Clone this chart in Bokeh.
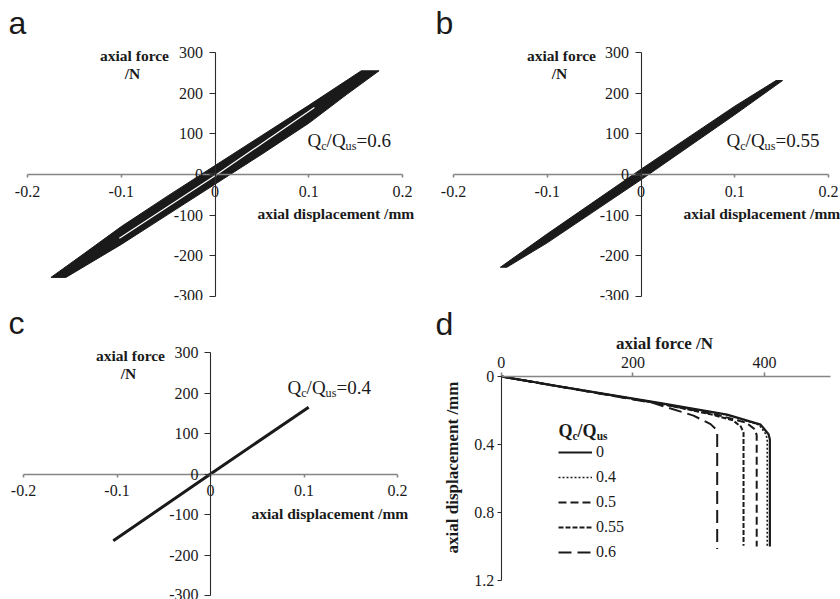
import math
from bokeh.plotting import figure
from bokeh.models import (Range1d, FixedTicker, Label, Legend, LegendItem,
                          CustomJSTickFormatter)
from bokeh.layouts import column, row
from bokeh.embed import file_html
from bokeh.resources import INLINE

# ---------------- data ----------------
# (a) cyclic loading, Qc/Qus = 0.6: outline of the hysteresis band
#     (upper edge left->right, then lower edge right->left), displacement in mm, force in N
a_loop_disp = [-0.175, -0.14, -0.1, -0.05, 0.0, 0.05, 0.1, 0.156,
               0.175, 0.14, 0.1, 0.05, 0.0, -0.05, -0.1, -0.159]
a_loop_force = [-253, -195, -128, -52, 22, 96, 170, 255,
                255, 196, 126, 50, -24, -98, -172, -253]
# open gap between successive cycles inside the band
a_gap_disp = [-0.102, 0.0, 0.106]
a_gap_force = [-157, -3, 165]

# (b) cyclic loading, Qc/Qus = 0.55
b_loop_disp = [-0.150, -0.1, 0.0, 0.1, 0.144, 0.151, 0.1, 0.0, -0.1, -0.143]
b_loop_force = [-228, -146, 13, 168, 231, 231, 147, -13, -168, -228]

# (c) cyclic loading, Qc/Qus = 0.4
c_disp = [-0.104, 0.0, 0.105]
c_force = [-165, 0, 165]

# (d) monotonic pull-out curves after cycling
d_series = ["0", "0.4", "0.5", "0.55", "0.6"]
d_force = {
    "0":    [0, 90, 242, 343, 394, 406, 408, 408],
    "0.4":  [0, 90, 242, 343, 392, 402, 404, 404],
    "0.5":  [0, 90, 242, 330, 372, 385, 388, 388],
    "0.55": [0, 90, 242, 318, 352, 364, 368, 368],
    "0.6":  [0, 90, 230, 292, 318, 326, 328, 328],
}
d_disp = {
    "0":    [0, 0.059, 0.157, 0.224, 0.283, 0.340, 0.370, 1.000],
    "0.4":  [0, 0.059, 0.158, 0.226, 0.285, 0.340, 0.370, 1.000],
    "0.5":  [0, 0.060, 0.160, 0.228, 0.272, 0.310, 0.345, 1.000],
    "0.55": [0, 0.060, 0.160, 0.222, 0.258, 0.295, 0.330, 0.995],
    "0.6":  [0, 0.060, 0.155, 0.230, 0.280, 0.310, 0.335, 1.015],
}

# tick values / labels
disp_ticks = [-0.2, -0.1, 0, 0.1, 0.2]
disp_tick_labels = ["-0.2", "-0.1", "0", "0.1", "0.2"]
force_ticks = [-300, -200, -100, 0, 100, 200, 300]
force_tick_labels = ["-300", "-200", "-100", "0", "100", "200", "300"]
d_force_ticks = [0, 200, 400]
d_force_tick_labels = ["0", "200", "400"]
d_disp_ticks = [0, 0.4, 0.8, 1.2]
d_disp_tick_labels = ["0", "0.4", "0.8", "1.2"]

# ---------------- styling helpers ----------------
SERIF = "Liberation Serif"
SANS = "Liberation Sans"
INK = "#1a1a1a"
GREY_AXIS = "#858585"

# Times/Liberation Serif advance widths (em) for the ratio labels
W_REG = {"Q": 0.722, "c": 0.444, "/": 0.278, "u": 0.5, "s": 0.389, "=": 0.564,
         "0": 0.5, ".": 0.25, "4": 0.5, "5": 0.5, "6": 0.5}
W_BOLD = {"Q": 0.778, "c": 0.444, "/": 0.278, "u": 0.556, "s": 0.389}


def pixel_range(v_a, px_a, v_b, px_b, length, downward=False):
    """Range whose values v_a, v_b land on pixels px_a, px_b of a canvas side."""
    k = (v_b - v_a) / (px_b - px_a)
    first = v_a - px_a * k
    last = v_a + (length - px_a) * k
    if downward:  # pixels counted from the top
        return Range1d(start=last, end=first)
    return Range1d(start=first, end=last)


def make_fig(w, h, xr, yr, x_loc="below"):
    p = figure(width=w, height=h, x_range=xr, y_range=yr, title=None,
               output_backend="svg", toolbar_location=None, tools="",
               x_axis_location=x_loc, min_border=0)
    p.xgrid.visible = False
    p.ygrid.visible = False
    p.outline_line_color = None
    p.background_fill_color = "white"
    p.border_fill_color = "white"
    return p


def style_axis(ax, ticks, labels, bounds, color, width, tick_out, standoff, size):
    ax.ticker = FixedTicker(ticks=ticks)
    ax.formatter = CustomJSTickFormatter(
        args=dict(tv=ticks, tl=labels),
        code="""
            for (let i = 0; i < tv.length; i++) {
                if (Math.abs(tv[i] - tick) < 1e-9) { return tl[i]; }
            }
            return "";
        """)
    ax.bounds = bounds
    ax.fixed_location = 0
    ax.axis_line_color = color
    ax.axis_line_width = width
    ax.major_tick_line_color = color
    ax.major_tick_line_width = width
    ax.major_tick_out = tick_out
    ax.major_tick_in = 0
    ax.minor_tick_line_color = None
    ax.major_label_text_font = SERIF
    ax.major_label_text_font_size = size
    ax.major_label_text_color = INK
    ax.major_label_standoff = standoff


def text(p, x, y, s, size, font=SERIF, bold=False, align="left",
         baseline="middle", angle=0.0):
    p.add_layout(Label(x=x, y=y, x_units="screen", y_units="screen", text=s,
                       text_font=font, text_font_size=f"{size}px",
                       text_font_style="bold" if bold else "normal",
                       text_color=INK, text_align=align,
                       text_baseline=baseline, angle=angle))


def ratio_label(p, x, y_mid, parts, size, bold=False):
    """Q_c/Q_us style label built from normal and subscript runs (y_mid = centre
    of the full-size run, in screen units from the bottom)."""
    widths = W_BOLD if bold else W_REG
    cx = x
    for s, sub in parts:
        fs = size * 0.64 if sub else size
        dy = -size * 0.29 if sub else 0.0
        text(p, cx, y_mid + dy, s, round(fs, 1), bold=bold)
        cx += sum(widths.get(ch, 0.5) for ch in s) * fs


def cyclic_panel(h, xr, yr, letter, letter_x, ratio, ratio_xy,
                 force_center_x, disp_label_x, disp_label_y):
    p = make_fig(420, h, xr, yr)
    style_axis(p.xaxis[0], disp_ticks, disp_tick_labels, (-0.2, 0.2),
               GREY_AXIS, 1.6, 3, 8, "16px")
    style_axis(p.yaxis[0], force_ticks, force_tick_labels, (-300, 300),
               "#2a2a2a", 1.1, 6, 6, "16px")
    text(p, letter_x, h - 22, letter, 32, font=SANS)
    text(p, force_center_x, h - 55, "axial force", 15.5, bold=True, align="center")
    text(p, force_center_x - 2, h - 73, "/N", 15.5, bold=True, align="center")
    text(p, disp_label_x, disp_label_y, "axial displacement  /mm", 15.5, bold=True)
    ratio_label(p, ratio_xy[0], ratio_xy[1],
                [("Q", False), ("c", True), ("/Q", False), ("us", True),
                 ("=" + ratio, False)], 19)
    return p


# ---------------- (a) ----------------
pa = cyclic_panel(300,
                  pixel_range(-0.2, 27, 0.2, 402, 420),
                  pixel_range(300, 52, -300, 296, 300, downward=True),
                  "a", 8, "0.6", (307, 300 - 140), 134, 257, 300 - 213)
pa.patch(a_loop_disp, a_loop_force, fill_color=INK, line_color=INK, line_width=1)
pa.line(a_gap_disp, a_gap_force, line_color="white", line_width=1.2)

# ---------------- (b) ----------------
pb = cyclic_panel(300,
                  pixel_range(-0.2, 33, 0.2, 408, 420),
                  pixel_range(300, 52, -300, 296, 300, downward=True),
                  "b", 15, "0.55", (306, 300 - 140), 141, 263, 300 - 213)
pb.patch(b_loop_disp, b_loop_force, fill_color=INK, line_color=INK, line_width=1)

# ---------------- (c) ----------------
pc = cyclic_panel(299,
                  pixel_range(-0.2, 23, 0.2, 397, 420),
                  pixel_range(300, 52, -300, 295, 299, downward=True),
                  "c", 8, "0.4", (287, 299 - 87), 130, 251, 299 - 213)
pc.line(c_disp, c_force, line_color=INK, line_width=3)

# ---------------- (d) ----------------
pd = make_fig(420, 299,
              pixel_range(0, 80.7, 200, 212.4, 420),
              pixel_range(0, 76, 0.4, 144, 299, downward=True),
              x_loc="above")
style_axis(pd.xaxis[0], d_force_ticks, d_force_tick_labels, (0, 500),
           GREY_AXIS, 1.6, 4, 5, "16px")
style_axis(pd.yaxis[0], d_disp_ticks, d_disp_tick_labels, (0, 1.2),
           "#2a2a2a", 1.1, 4, 3, "16px")

dash_styles = {"0": "solid", "0.4": "2 2", "0.5": "8 4", "0.55": "5 2", "0.6": "13 6"}
widths = {"0": 2.2, "0.4": 1.6, "0.5": 2.0, "0.55": 2.0, "0.6": 2.0}
items = []
for key in d_series:
    r = pd.line(d_force[key], d_disp[key], line_color=INK, line_width=widths[key],
                line_dash=dash_styles[key])
    items.append(LegendItem(label=key, renderers=[r]))

legend = Legend(items=items, location=(138, 37), glyph_width=34, glyph_height=20,
                label_height=20, spacing=5, padding=0, margin=0, label_standoff=4,
                border_line_color=None, background_fill_alpha=0,
                label_text_font=SERIF, label_text_font_size="16px",
                label_text_color=INK)
pd.add_layout(legend)

text(pd, 15, 299 - 23, "d", 32, font=SANS)
text(pd, 244, 299 - 43, "axial force /N", 17, bold=True, align="center")
text(pd, 32, 299 - 167, "axial displacement /mm", 17, bold=True, align="center",
     angle=math.pi / 2)
ratio_label(pd, 138, 299 - 130, [("Q", False), ("c", True), ("/Q", False),
                                 ("us", True)], 18, bold=True)

layout = column(row(pa, pb), row(pc, pd))

with open("out.html", "w") as f:
    f.write(file_html(layout, INLINE))
